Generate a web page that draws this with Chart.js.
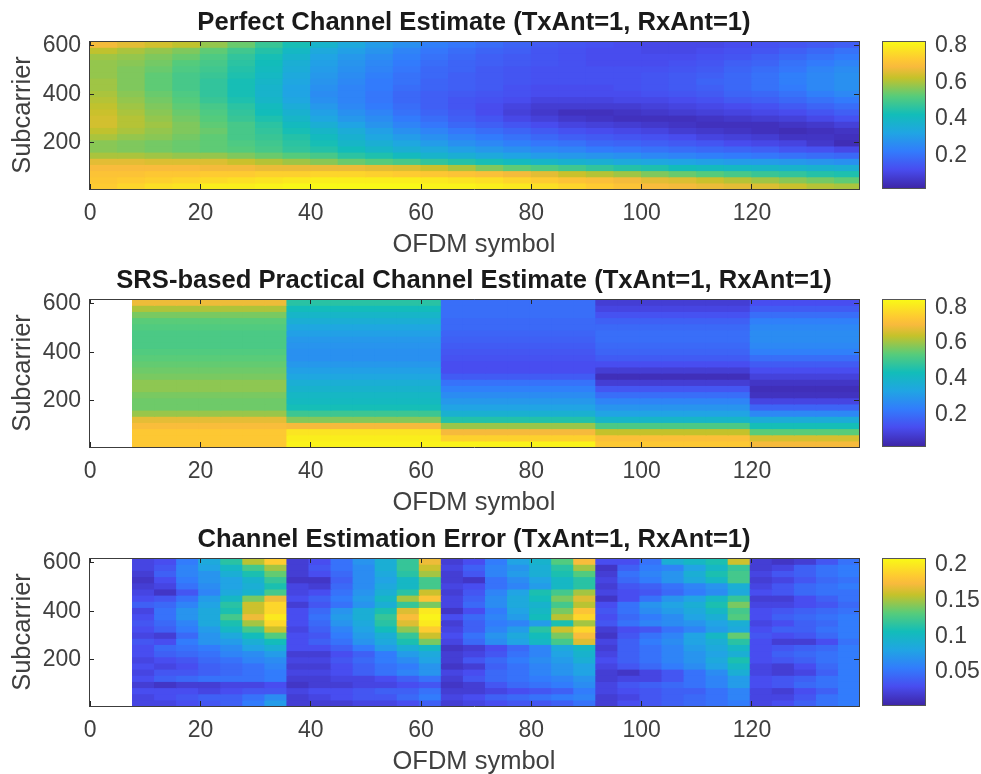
<!DOCTYPE html>
<html>
<head>
<meta charset="utf-8">
<title>Channel estimates</title>
<script src="https://cdn.jsdelivr.net/npm/chart.js@4"></script>
<style>
    html, body { margin: 0; padding: 0; background: #fff; overflow: hidden; width: 981px; height: 774px; }
    canvas { position: absolute; filter: blur(0.5px); }
</style>
</head>
<body>
<canvas id="map1" width="870" height="260" style="left:0;top:0"></canvas>
<canvas id="bar1" width="111" height="260" style="left:870px;top:0"></canvas>
<canvas id="map2" width="870" height="260" style="left:0;top:258px"></canvas>
<canvas id="bar2" width="111" height="260" style="left:870px;top:258px"></canvas>
<canvas id="map3" width="870" height="260" style="left:0;top:517px"></canvas>
<canvas id="bar3" width="111" height="260" style="left:870px;top:517px"></canvas>
<script>
const titles = [
    'Perfect Channel Estimate (TxAnt=1, RxAnt=1)',
    'SRS-based Practical Channel Estimate (TxAnt=1, RxAnt=1)',
    'Channel Estimation Error (TxAnt=1, RxAnt=1)'
];
const xLabel = 'OFDM symbol';
const yLabel = 'Subcarrier';
const xTicks = [0, 20, 40, 60, 80, 100, 120];
const yTicks = [200, 400, 600];
const colorTicks1 = [0.2, 0.4, 0.6, 0.8];
const colorTicks2 = [0.2, 0.4, 0.6, 0.8];
const colorTicks3 = [0.05, 0.1, 0.15, 0.2];
const colorRange1 = [0.02, 0.826];
const colorRange2 = [0.026, 0.846];
const colorRange3 = [0.004, 0.209];

// row edges, top to bottom
const rowEdges = [620, 594.5, 569, 543.5, 518, 492.5, 467, 441.5, 416, 390.5, 365, 339.5, 314, 288.5, 263, 237.5, 212, 186.5, 161, 135.5, 110, 84.5, 59, 33.5, 8];

const perfectSymbols = [2.5, 7.5, 12.5, 17.5, 22.5, 27.5, 32.5, 37.5, 42.5, 47.5, 52.5, 57.5, 62.5, 67.5, 72.5, 77.5, 82.5, 87.5, 92.5, 97.5, 102.5, 107.5, 112.5, 117.5, 122.5, 127.5, 132.5, 137.5];
const srsSymbols = [9.7, 13.7, 17.7, 21.7, 25.7, 29.7, 33.7, 37.7, 41.7, 45.7, 49.7, 53.7, 57.7, 61.7, 65.7, 69.7, 73.7, 77.7, 81.7, 85.7, 89.7, 93.7, 97.7, 101.7, 105.7, 109.7, 113.7, 117.7, 121.7, 125.7, 129.7, 133.7, 137.7];

const perfectRows = [
    [.68,.66,.64,.62,.58,.54,.48,.43,.38,.34,.30,.27,.23,.21,.19,.17,.15,.14,.13,.12,.11,.11,.11,.12,.13,.14,.15,.16],
    [.62,.60,.58,.56,.53,.49,.45,.40,.34,.31,.28,.24,.21,.19,.17,.16,.14,.13,.12,.12,.11,.11,.12,.13,.14,.16,.18,.20],
    [.59,.58,.56,.54,.51,.47,.43,.38,.32,.29,.26,.23,.20,.18,.16,.15,.14,.13,.12,.12,.12,.12,.13,.14,.16,.18,.20,.22],
    [.58,.57,.55,.52,.50,.46,.42,.36,.31,.28,.25,.22,.19,.17,.16,.15,.14,.13,.12,.12,.12,.13,.14,.16,.17,.20,.22,.24],
    [.58,.56,.54,.51,.49,.45,.41,.35,.30,.27,.24,.21,.18,.17,.15,.14,.13,.13,.13,.13,.13,.14,.15,.17,.19,.21,.24,.26],
    [.58,.56,.53,.50,.48,.44,.40,.34,.29,.26,.23,.20,.18,.16,.15,.14,.13,.13,.13,.13,.14,.15,.16,.18,.20,.23,.25,.27],
    [.59,.56,.53,.50,.47,.43,.39,.33,.28,.25,.22,.20,.17,.16,.15,.14,.13,.13,.13,.13,.14,.15,.17,.18,.20,.23,.25,.27],
    [.59,.56,.53,.50,.47,.43,.38,.32,.27,.24,.22,.19,.17,.16,.15,.13,.12,.12,.12,.13,.14,.15,.16,.18,.20,.22,.25,.27],
    [.60,.57,.54,.51,.47,.43,.38,.32,.26,.24,.21,.18,.16,.15,.14,.13,.12,.12,.12,.12,.13,.14,.15,.17,.18,.20,.23,.25],
    [.61,.58,.55,.52,.48,.44,.39,.33,.27,.24,.21,.18,.16,.14,.13,.12,.10,.10,.10,.11,.11,.12,.13,.15,.16,.18,.20,.22],
    [.62,.59,.56,.53,.50,.46,.41,.35,.29,.25,.22,.19,.16,.14,.12,.10,.08,.08,.08,.08,.09,.10,.11,.12,.13,.15,.17,.19],
    [.63,.60,.57,.54,.51,.47,.42,.37,.31,.27,.24,.20,.17,.15,.12,.09,.07,.05,.05,.06,.07,.08,.09,.10,.11,.12,.14,.16],
    [.64,.61,.58,.55,.52,.48,.44,.39,.33,.29,.26,.22,.19,.16,.14,.11,.09,.07,.06,.05,.05,.05,.06,.07,.08,.09,.11,.13],
    [.64,.61,.59,.56,.53,.50,.46,.41,.36,.32,.28,.24,.21,.18,.16,.14,.12,.10,.09,.08,.07,.06,.05,.05,.05,.06,.07,.09],
    [.62,.60,.58,.56,.54,.50,.47,.43,.39,.35,.31,.27,.24,.21,.19,.17,.15,.13,.12,.11,.10,.08,.07,.06,.05,.04,.05,.06],
    [.60,.58,.57,.55,.53,.50,.48,.45,.41,.37,.33,.30,.27,.24,.22,.20,.18,.16,.15,.14,.13,.12,.10,.09,.08,.06,.06,.05],
    [.57,.56,.55,.54,.53,.51,.49,.46,.43,.39,.36,.33,.30,.27,.25,.23,.21,.20,.18,.17,.16,.15,.14,.12,.11,.10,.07,.04],
    [.57,.56,.55,.54,.53,.52,.50,.47,.45,.42,.39,.36,.34,.31,.29,.27,.25,.24,.22,.21,.20,.19,.18,.17,.16,.14,.13,.11],
    [.60,.60,.59,.58,.58,.56,.54,.52,.50,.46,.44,.41,.38,.36,.34,.32,.30,.29,.28,.27,.25,.24,.23,.22,.21,.20,.19,.18],
    [.66,.66,.65,.65,.65,.63,.61,.59,.57,.54,.52,.50,.47,.45,.43,.41,.39,.37,.36,.34,.33,.32,.31,.30,.30,.29,.28,.27],
    [.69,.69,.69,.69,.68,.68,.67,.67,.67,.67,.66,.65,.63,.60,.56,.53,.51,.49,.47,.45,.44,.42,.41,.40,.39,.38,.37,.36],
    [.71,.71,.72,.72,.73,.73,.74,.74,.75,.75,.74,.73,.72,.71,.70,.68,.66,.63,.61,.59,.56,.54,.52,.50,.48,.47,.45,.44],
    [.72,.73,.74,.75,.76,.77,.78,.79,.80,.80,.80,.80,.79,.78,.77,.75,.73,.71,.70,.68,.66,.65,.63,.61,.59,.57,.55,.53],
    [.73,.75,.77,.78,.80,.80,.81,.82,.82,.82,.82,.82,.81,.81,.80,.79,.77,.75,.73,.71,.69,.68,.67,.66,.65,.63,.61,.60]
];

// SRS estimate holds one profile per sounding block
const srsBlock1 = [.69,.62,.57,.54,.53,.52,.52,.52,.53,.54,.55,.56,.57,.59,.59,.57,.56,.56,.60,.68,.71,.74,.74,.74];
const srsBlock2 = [.47,.43,.40,.37,.34,.32,.30,.29,.28,.28,.30,.32,.34,.37,.39,.41,.42,.44,.50,.58,.70,.80,.82,.83];
const srsBlock3 = [.20,.20,.20,.19,.19,.18,.17,.16,.15,.14,.13,.13,.16,.21,.24,.27,.30,.33,.38,.46,.60,.70,.76,.83];
const srsBlock4 = [.09,.11,.14,.17,.19,.20,.20,.19,.18,.16,.13,.09,.05,.09,.15,.20,.25,.29,.33,.40,.52,.64,.72,.74];
const srsBlock5 = [.13,.16,.20,.24,.26,.27,.27,.26,.24,.20,.16,.13,.10,.07,.05,.06,.11,.18,.26,.36,.44,.54,.66,.70];
const blockColumns = [7, 7, 7, 7, 5];

const errBlock1 = [
    [.025,.03,.055,.085,.115,.155,.185],[.025,.035,.06,.08,.10,.125,.15],[.02,.04,.06,.07,.09,.11,.135],
    [.015,.03,.055,.07,.08,.095,.12],[.02,.025,.05,.065,.08,.09,.11],[.025,.015,.035,.06,.085,.095,.125],
    [.03,.035,.05,.075,.10,.14,.17],[.04,.045,.06,.08,.115,.16,.19],[.025,.05,.07,.085,.11,.16,.19],
    [.03,.05,.07,.085,.125,.17,.20],[.035,.045,.06,.085,.11,.15,.19],[.03,.04,.055,.075,.10,.125,.16],
    [.025,.02,.045,.07,.085,.105,.13],[.035,.03,.055,.07,.075,.09,.105],[.03,.045,.05,.055,.065,.08,.09],
    [.03,.04,.045,.05,.06,.065,.075],[.025,.03,.035,.045,.05,.06,.065],[.03,.025,.03,.04,.045,.05,.06],
    [.025,.035,.035,.04,.045,.05,.055],[.03,.04,.045,.05,.05,.05,.055],[.02,.015,.02,.02,.025,.025,.03],
    [.03,.03,.03,.025,.03,.035,.035],[.025,.03,.035,.04,.04,.05,.065],[.025,.025,.03,.035,.04,.055,.075]
];
const errBlock2 = [
    [.02,.03,.05,.07,.09,.12,.17],[.02,.035,.05,.065,.09,.12,.16],[.02,.03,.045,.065,.085,.115,.15],
    [.015,.015,.04,.065,.08,.10,.125],[.025,.02,.045,.065,.085,.10,.125],[.025,.03,.05,.07,.09,.115,.16],
    [.03,.04,.055,.075,.10,.15,.18],[.02,.035,.05,.07,.09,.12,.14],[.03,.045,.07,.09,.11,.165,.20],
    [.03,.05,.075,.09,.12,.175,.205],[.03,.045,.07,.085,.115,.165,.20],[.025,.04,.06,.08,.105,.145,.185],
    [.03,.035,.055,.075,.09,.12,.16],[.03,.04,.05,.07,.085,.11,.14],[.03,.03,.04,.055,.075,.09,.10],
    [.02,.02,.03,.04,.055,.075,.085],[.025,.025,.035,.045,.055,.065,.08],[.02,.02,.03,.04,.05,.055,.07],
    [.025,.025,.03,.04,.05,.06,.07],[.02,.02,.025,.025,.03,.04,.05],[.015,.02,.02,.025,.025,.03,.035],
    [.025,.03,.03,.035,.04,.04,.05],[.02,.025,.03,.035,.035,.045,.055],[.02,.02,.02,.025,.025,.03,.04]
];
const errBlock3 = [
    [.02,.03,.055,.08,.095,.13,.175],[.025,.04,.06,.07,.09,.115,.15],[.02,.035,.06,.075,.09,.11,.13],
    [.02,.015,.05,.065,.08,.10,.115],[.025,.03,.05,.06,.075,.10,.115],[.02,.035,.06,.08,.11,.125,.15],
    [.025,.04,.065,.085,.105,.14,.165],[.025,.045,.065,.085,.095,.125,.155],[.015,.03,.055,.08,.10,.14,.18],
    [.03,.045,.06,.075,.105,.155,.19],[.02,.04,.055,.06,.075,.11,.15],[.025,.04,.06,.075,.115,.16,.19],
    [.03,.05,.07,.085,.105,.14,.175],[.025,.045,.065,.08,.10,.125,.165],[.015,.02,.03,.045,.06,.085,.10],
    [.02,.025,.035,.05,.06,.08,.095],[.02,.035,.045,.055,.065,.075,.09],[.015,.02,.04,.05,.06,.07,.08],
    [.025,.03,.045,.05,.06,.07,.08],[.02,.035,.045,.05,.055,.06,.07],[.015,.02,.035,.045,.05,.055,.065],
    [.02,.02,.025,.03,.035,.04,.055],[.025,.03,.04,.045,.05,.055,.06],[.02,.025,.03,.035,.035,.04,.05]
];
const errBlock4 = [
    [.03,.03,.05,.09,.10,.11,.16],[.015,.04,.055,.06,.08,.10,.12],[.02,.05,.06,.07,.09,.11,.125],
    [.025,.045,.055,.07,.085,.10,.125],[.02,.035,.04,.05,.06,.07,.09],[.025,.03,.035,.045,.055,.065,.085],
    [.015,.03,.05,.07,.08,.10,.12],[.03,.05,.07,.08,.09,.11,.14],[.035,.05,.065,.075,.085,.10,.125],
    [.03,.045,.055,.065,.08,.09,.13],[.035,.05,.06,.065,.07,.08,.09],[.02,.03,.035,.05,.06,.075,.085],
    [.015,.035,.05,.06,.08,.10,.135],[.025,.04,.055,.065,.08,.09,.115],[.02,.04,.05,.06,.075,.085,.10],
    [.025,.04,.05,.06,.07,.08,.09],[.03,.04,.05,.06,.07,.085,.11],[.025,.035,.045,.055,.065,.08,.10],
    [.02,.015,.025,.035,.05,.065,.09],[.02,.025,.025,.035,.05,.06,.075],[.025,.035,.04,.045,.05,.06,.075],
    [.025,.03,.035,.04,.04,.05,.06],[.02,.025,.035,.04,.045,.05,.06],[.02,.03,.035,.04,.045,.05,.055]
];
const errBlock5 = [
    [.02,.015,.02,.035,.05],[.02,.025,.04,.05,.055],[.025,.035,.04,.05,.055],
    [.02,.025,.035,.045,.05],[.025,.035,.045,.05,.055],[.03,.035,.045,.05,.05],
    [.02,.02,.03,.04,.05],[.025,.025,.03,.035,.045],[.03,.035,.04,.045,.05],
    [.03,.04,.045,.05,.055],[.025,.03,.04,.045,.055],[.03,.04,.04,.05,.055],
    [.035,.03,.035,.045,.055],[.03,.02,.02,.03,.05],[.03,.035,.04,.045,.055],
    [.03,.04,.045,.05,.055],[.03,.035,.04,.05,.055],[.025,.02,.03,.045,.055],
    [.025,.02,.025,.04,.055],[.03,.035,.04,.05,.055],[.03,.035,.045,.05,.055],
    [.025,.02,.03,.04,.055],[.025,.025,.035,.05,.055],[.025,.03,.04,.05,.055]
];

// parula colormap stops
const parulaAt = [0, 0.127, 0.25, 0.375, 0.5, 0.625, 0.75, 0.825, 0.875, 1];
const parulaRgb = [
    [62, 38, 168], [72, 77, 240], [50, 124, 252], [32, 165, 227], [18, 189, 185],
    [87, 204, 122], [197, 194, 42], [248, 186, 61], [254, 201, 50], [249, 251, 21]
];

const textColor = '#404040';
const axisColor = '#3c3c3c';
const fontFamily = "'Liberation Sans', Arial, sans-serif";
const tickFont = { family: fontFamily, size: 23 };
const labelFont = { family: fontFamily, size: 25.5 };
const titleFont = { family: fontFamily, size: 25.6, weight: 'bold' };

function parula(f) {
    f = Math.min(1, Math.max(0, f));
    let i = 0;
    while (i < parulaAt.length - 2 && f > parulaAt[i + 1]) i++;
    const t = (f - parulaAt[i]) / (parulaAt[i + 1] - parulaAt[i]);
    const c = parulaRgb[i].map((v, k) => Math.round(v + (parulaRgb[i + 1][k] - v) * t));
    return 'rgb(' + c.join(',') + ')';
}

function fixedTicks(values) {
    return scale => { scale.ticks = values.map(v => ({ value: v })); };
}

function renderHeatmap(canvasId, title, symbols, rows, range) {
    const datasets = rows.map((row, r) => ({
        data: symbols.map(x => ({ x: x, y: [rowEdges[r + 1], rowEdges[r]] })),
        backgroundColor: row.map(v => parula((v - range[0]) / (range[1] - range[0]))),
        borderWidth: 0,
        inflateAmount: 0.6,
        barPercentage: 1,
        categoryPercentage: 1,
        grouped: false
    }));
    const tickGrid = { drawOnChartArea: false, tickLength: -5, color: '#262626', z: 1, offset: false };
    const box = { color: axisColor, z: 1 };
    const xRange = { type: 'linear', offset: false, min: -0.2, max: 139.4, afterBuildTicks: fixedTicks(xTicks) };
    const yRange = { type: 'linear', min: 8, max: 620, afterBuildTicks: fixedTicks(yTicks) };
    new Chart(document.getElementById(canvasId), {
        type: 'bar',
        data: { datasets: datasets },
        options: {
            responsive: false,
            animation: false,
            events: [],
            layout: { padding: { right: 11, top: 0 } },
            plugins: {
                legend: { display: false },
                tooltip: { enabled: false },
                title: {
                    display: true,
                    text: title,
                    fullSize: false,
                    color: '#1a1a1a',
                    font: titleFont,
                    padding: { top: 8, bottom: 2.3 }
                }
            },
            scales: {
                x: {
                    ...xRange,
                    position: 'bottom',
                    grid: tickGrid,
                    border: box,
                    ticks: { color: textColor, font: tickFont, padding: 16, maxRotation: 0 },
                    title: { display: true, text: xLabel, color: textColor, font: labelFont, padding: 0 },
                    afterFit: s => { s.height = 71; }
                },
                xTop: {
                    ...xRange,
                    position: 'top',
                    grid: tickGrid,
                    border: box,
                    ticks: { display: false },
                    afterFit: s => { s.height = 0; }
                },
                y: {
                    ...yRange,
                    position: 'left',
                    grid: tickGrid,
                    border: box,
                    ticks: { color: textColor, font: tickFont, padding: 13 },
                    title: { display: true, text: yLabel, color: textColor, font: labelFont, padding: { top: 8, bottom: 0 } },
                    afterFit: s => { s.width = 89; }
                },
                yRight: {
                    ...yRange,
                    position: 'right',
                    grid: tickGrid,
                    border: box,
                    ticks: { display: false },
                    afterFit: s => { s.width = 0; }
                }
            }
        }
    });
}

function renderColorbar(canvasId, tickValues, range) {
    const gradient = ctx => {
        const area = ctx.chart.chartArea;
        if (!area) return parulaRgb[0];
        const g = ctx.chart.ctx.createLinearGradient(0, area.bottom, 0, area.top);
        parulaAt.forEach(at => g.addColorStop(at, parula(at)));
        return g;
    };
    const box = { color: '#555555', z: 1 };
    new Chart(document.getElementById(canvasId), {
        type: 'bar',
        data: {
            labels: [''],
            datasets: [{
                data: [range],
                backgroundColor: gradient,
                borderWidth: 0,
                barPercentage: 1,
                categoryPercentage: 1
            }]
        },
        options: {
            responsive: false,
            animation: false,
            events: [],
            layout: { padding: { left: 12, top: 41, bottom: 72 } },
            plugins: { legend: { display: false }, tooltip: { enabled: false } },
            scales: {
                x: {
                    position: 'bottom',
                    grid: { display: false },
                    border: box,
                    ticks: { display: false },
                    afterFit: s => { s.height = 0; }
                },
                xTop: {
                    type: 'category',
                    labels: [''],
                    position: 'top',
                    grid: { display: false },
                    border: box,
                    ticks: { display: false },
                    afterFit: s => { s.height = 0; }
                },
                yLeft: {
                    type: 'linear',
                    position: 'left',
                    min: range[0],
                    max: range[1],
                    grid: { display: false },
                    border: box,
                    ticks: { display: false },
                    afterBuildTicks: fixedTicks(tickValues),
                    afterFit: s => { s.width = 0; }
                },
                y: {
                    type: 'linear',
                    position: 'right',
                    min: range[0],
                    max: range[1],
                    grid: { display: false, drawTicks: false },
                    border: box,
                    ticks: { color: textColor, font: tickFont, padding: 10, callback: v => String(v) },
                    afterBuildTicks: fixedTicks(tickValues),
                    afterFit: s => { s.width = 56; }
                }
            }
        }
    });
}

// stack the per block columns into one row per subcarrier band
const srsBlocks = [srsBlock1, srsBlock2, srsBlock3, srsBlock4, srsBlock5];
const srsRows = rowEdges.slice(1).map((_, r) =>
    srsBlocks.flatMap((block, b) => Array(blockColumns[b]).fill(block[r])));
const errRows = rowEdges.slice(1).map((_, r) =>
    [errBlock1, errBlock2, errBlock3, errBlock4, errBlock5].flatMap(block => block[r]));

renderHeatmap('map1', titles[0], perfectSymbols, perfectRows, colorRange1);
renderHeatmap('map2', titles[1], srsSymbols, srsRows, colorRange2);
renderHeatmap('map3', titles[2], srsSymbols, errRows, colorRange3);
renderColorbar('bar1', colorTicks1, colorRange1);
renderColorbar('bar2', colorTicks2, colorRange2);
renderColorbar('bar3', colorTicks3, colorRange3);
</script>
</body>
</html>
